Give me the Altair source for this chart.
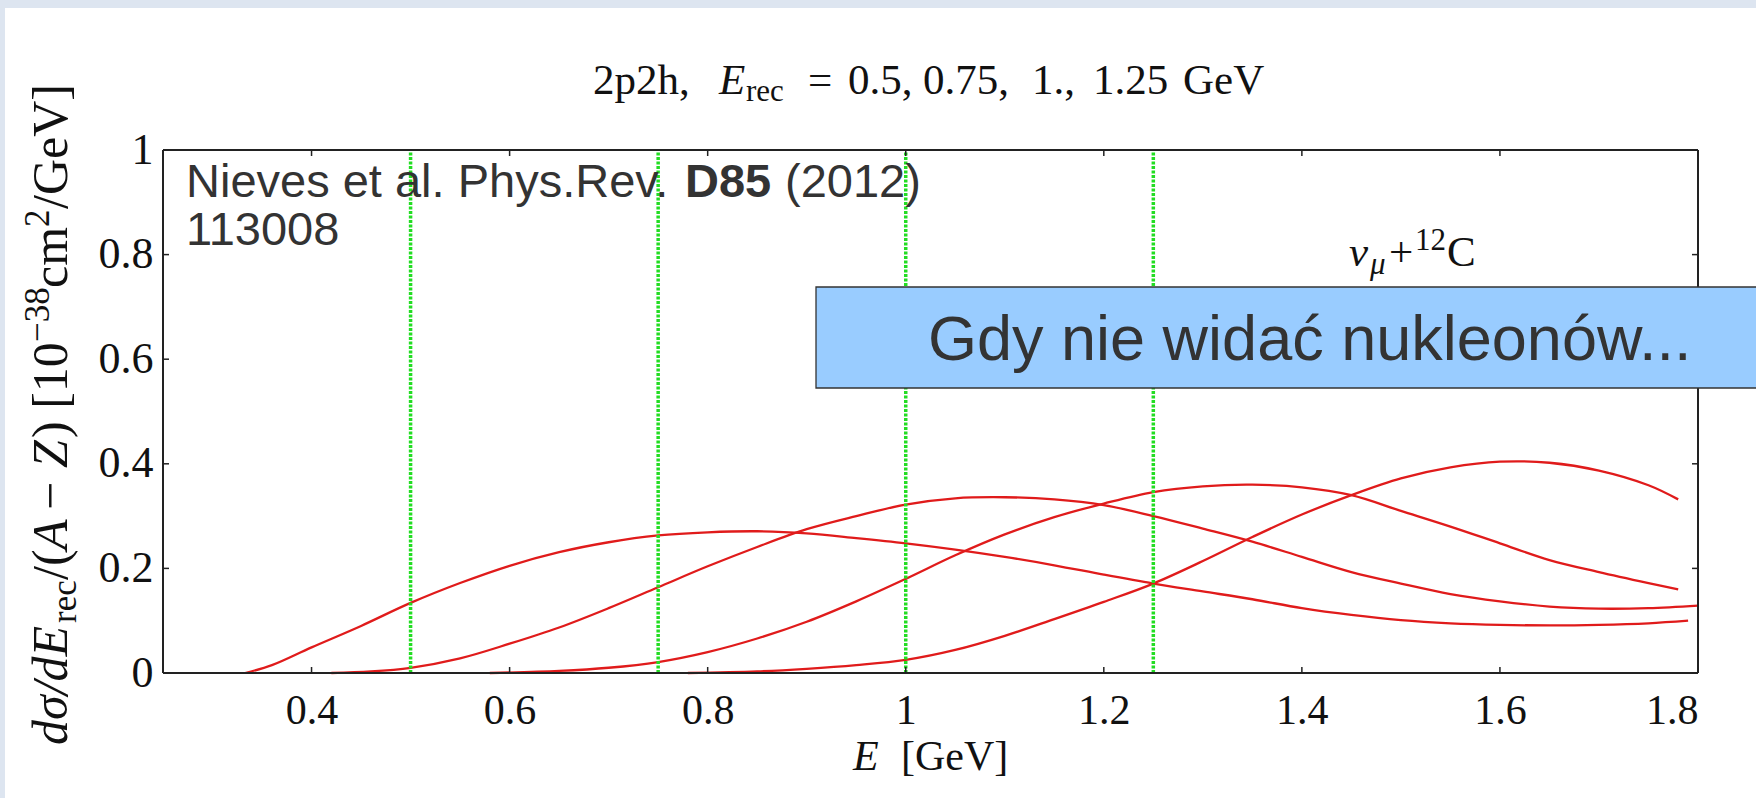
import altair as alt
import pandas as pd

# ---------------------------------------------------------------- data ---
E_REC = [0.5, 0.75, 1.0, 1.25]

E_05 = [0.333, 0.36, 0.40, 0.45, 0.50, 0.55, 0.60, 0.65, 0.70, 0.75, 0.80, 0.85,
        0.90, 0.95, 1.00, 1.05, 1.10, 1.15, 1.20, 1.25, 1.30, 1.35, 1.40, 1.45,
        1.50, 1.55, 1.60, 1.65, 1.70, 1.75, 1.79]
S_05 = [0.0, 0.015, 0.049, 0.090, 0.134, 0.172, 0.205, 0.231, 0.250, 0.263, 0.269, 0.271,
        0.267, 0.258, 0.248, 0.236, 0.222, 0.206, 0.188, 0.171, 0.156, 0.141, 0.124, 0.111,
        0.101, 0.095, 0.092, 0.091, 0.092, 0.095, 0.100]

E_075 = [0.42, 0.46, 0.50, 0.55, 0.60, 0.65, 0.70, 0.75, 0.80, 0.85, 0.90, 0.95,
         1.00, 1.05, 1.10, 1.15, 1.20, 1.25, 1.30, 1.35, 1.40, 1.45, 1.50, 1.55,
         1.60, 1.65, 1.70, 1.75, 1.80]
S_075 = [0.0, 0.003, 0.010, 0.028, 0.056, 0.087, 0.124, 0.164, 0.204, 0.241, 0.275, 0.300,
         0.322, 0.334, 0.336, 0.332, 0.321, 0.300, 0.276, 0.251, 0.222, 0.193, 0.171, 0.151,
         0.137, 0.127, 0.123, 0.124, 0.129]

E_10 = [0.58, 0.65, 0.70, 0.75, 0.80, 0.85, 0.90, 0.95, 1.00, 1.05, 1.10, 1.15,
        1.20, 1.25, 1.30, 1.35, 1.40, 1.45, 1.50, 1.55, 1.60, 1.65, 1.70, 1.75, 1.78]
S_10 = [0.0, 0.004, 0.010, 0.021, 0.040, 0.066, 0.098, 0.137, 0.180, 0.225, 0.265, 0.298,
        0.324, 0.346, 0.357, 0.360, 0.355, 0.340, 0.310, 0.280, 0.248, 0.216, 0.193, 0.172, 0.160]

E_125 = [0.78, 0.85, 0.90, 0.95, 1.00, 1.05, 1.10, 1.15, 1.20, 1.25, 1.30, 1.35,
         1.40, 1.45, 1.50, 1.55, 1.60, 1.65, 1.70, 1.75, 1.78]
S_125 = [0.0, 0.003, 0.008, 0.015, 0.025, 0.044, 0.071, 0.103, 0.136, 0.171, 0.214, 0.260,
         0.303, 0.340, 0.372, 0.393, 0.404, 0.402, 0.387, 0.359, 0.332]

X_TICKS = [0.4, 0.6, 0.8, 1.0, 1.2, 1.4, 1.6, 1.8]
Y_TICKS = [0.0, 0.2, 0.4, 0.6, 0.8, 1.0]

# ------------------------------------------------------------- layout ---
W, H = 1535, 523                   # plot area
PAD = {"left": 163, "top": 150, "right": 58, "bottom": 125}
SERIF = "Liberation Serif"
SANS = "Liberation Sans"
INK = "#111111"
GREY = "#333333"

curves = pd.concat(
    [pd.DataFrame({"E": e, "sigma": s, "Erec": r})
     for e, s, r in [(E_05, S_05, 0.5), (E_075, S_075, 0.75),
                     (E_10, S_10, 1.0), (E_125, S_125, 1.25)]],
    ignore_index=True)

x_scale = alt.Scale(domain=[0.25, 1.8], nice=False, zero=False)
y_scale = alt.Scale(domain=[0, 1], nice=False, zero=False)

x_axis = alt.Axis(values=X_TICKS, format="~g", ticks=False, tickSize=0, domain=False,
                  grid=False, labelFont=SERIF, labelFontSize=42, labelColor=INK,
                  labelPadding=50, labelBaseline="alphabetic", title=None)
y_axis = alt.Axis(values=Y_TICKS, format="~g", ticks=False, tickSize=0, domain=False,
                  grid=False, labelFont=SERIF, labelFontSize=44, labelColor=INK,
                  labelPadding=10, title=None)

lines = alt.Chart(curves).mark_line(color="#e01b1b", strokeWidth=2.3,
                                    interpolate="catmull-rom").encode(
    x=alt.X("E:Q", scale=x_scale, axis=x_axis),
    y=alt.Y("sigma:Q", scale=y_scale, axis=y_axis),
    detail="Erec:N",
)

markers = alt.Chart(pd.DataFrame({"E": E_REC})).mark_rule(
    color="#22dd22", strokeWidth=3.5, strokeDash=[3, 1.5]).encode(
    x=alt.X("E:Q", scale=x_scale),
    y=alt.datum(0),
    y2=alt.datum(1),
)

# box frame and inward ticks
frame_style = dict(color="#222222", strokeWidth=2)
frame = [
    alt.Chart(pd.DataFrame({"k": [0]})).mark_rule(**frame_style).encode(
        x=alt.value(0), x2=alt.value(W), y=alt.value(0)),
    alt.Chart(pd.DataFrame({"k": [0]})).mark_rule(**frame_style).encode(
        x=alt.value(0), x2=alt.value(W), y=alt.value(H)),
    alt.Chart(pd.DataFrame({"k": [0]})).mark_rule(**frame_style).encode(
        x=alt.value(0), y=alt.value(0), y2=alt.value(H)),
    alt.Chart(pd.DataFrame({"k": [0]})).mark_rule(**frame_style).encode(
        x=alt.value(W), y=alt.value(0), y2=alt.value(H)),
]
tick_style = dict(color="#222222", strokeWidth=1.5)
xt = pd.DataFrame({"v": X_TICKS})
yt = pd.DataFrame({"v": Y_TICKS})
ticks = [
    alt.Chart(xt).mark_rule(**tick_style).encode(
        x=alt.X("v:Q", scale=x_scale), y=alt.value(H), y2=alt.value(H - 6)),
    alt.Chart(xt).mark_rule(**tick_style).encode(
        x=alt.X("v:Q", scale=x_scale), y=alt.value(0), y2=alt.value(6)),
    alt.Chart(yt).mark_rule(**tick_style).encode(
        y=alt.Y("v:Q", scale=y_scale), x=alt.value(0), x2=alt.value(6)),
    alt.Chart(yt).mark_rule(**tick_style).encode(
        y=alt.Y("v:Q", scale=y_scale), x=alt.value(W), x2=alt.value(W - 6)),
]


def txt(s, x, y, size, font=SERIF, style="normal", weight="normal", color=INK,
        angle=0, align="left", baseline="alphabetic"):
    return alt.Chart(pd.DataFrame({"t": [s]})).mark_text(
        font=font, fontSize=size, fontStyle=style, fontWeight=weight, color=color,
        angle=angle, align=align, baseline=baseline).encode(
        x=alt.value(x), y=alt.value(y), text="t:N")


# title: 2p2h, E_rec = 0.5, 0.75, 1., 1.25 GeV
title = [
    txt("2p2h,", 430, -56, 43),
    txt("E", 556, -56, 43, style="italic"),
    txt("rec", 583, -49, 31),
    txt("=", 645, -56, 43),
    txt("0.5,", 685, -56, 43),
    txt("0.75,", 760, -56, 43),
    txt("1.,", 869, -56, 43),
    txt("1.25", 930, -56, 43),
    txt("GeV", 1020, -56, 43),
]

# x axis title: E [GeV]
xtitle = [
    txt("E", 690, 620, 42, style="italic"),
    txt("[GeV]", 738, 620, 42),
]

# y axis title, rotated: dσ/dE_rec/(A − Z) [10^−38 cm^2/GeV]
YB = -96
ytitle = [
    txt("dσ/dE", YB, 595, 50, style="italic", angle=270),
    txt("rec", YB + 9, 473, 35, angle=270),
    txt("/(", YB, 430, 50, angle=270),
    txt("A", YB, 400, 50, style="italic", angle=270),
    txt("−", YB, 360, 50, angle=270),
    txt("Z", YB, 318, 50, style="italic", angle=270),
    txt(") [10", YB, 288, 50, angle=270),
    txt("−38", YB - 18, 192, 35, angle=270),
    txt("cm", YB, 138, 50, angle=270),
    txt("2", YB - 18, 77, 35, angle=270),
    txt("/GeV]", YB, 59, 50, angle=270),
]

# reaction label: ν_μ + ¹²C
reaction = [
    txt("ν", 1186, 116, 43, style="italic"),
    txt("μ", 1207, 124, 31, style="italic"),
    txt("+", 1226, 116, 43),
    txt("12", 1252, 100, 31),
    txt("C", 1284, 116, 43),
]

# reference note
ref = [
    txt("Nieves et al. Phys.Rev. ", 23, 47, 47, font=SANS, color=GREY),
    txt("D85", 522, 47, 47, font=SANS, weight="bold", color=GREY),
    txt("(2012)", 622, 47, 47, font=SANS, color=GREY),
    txt("113008", 23, 95, 47, font=SANS, color=GREY),
]

# callout box
box = alt.Chart(pd.DataFrame({"k": [0]})).mark_rect(
    fill="#99ccff", stroke="#333333", strokeWidth=1.3).encode(
    x=alt.value(653), x2=alt.value(W + 70), y=alt.value(137), y2=alt.value(238))
box_text = txt("Gdy nie widać nukleonów...", 765, 210, 63, font=SANS, color=GREY)

# slide border strips
strips = [
    alt.Chart(pd.DataFrame({"k": [0]})).mark_rect(color="#dde5f0").encode(
        x=alt.value(-PAD["left"]), x2=alt.value(W + PAD["right"]),
        y=alt.value(-PAD["top"]), y2=alt.value(-PAD["top"] + 8)),
    alt.Chart(pd.DataFrame({"k": [0]})).mark_rect(color="#dde5f0").encode(
        x=alt.value(-PAD["left"]), x2=alt.value(-PAD["left"] + 5),
        y=alt.value(-PAD["top"]), y2=alt.value(H + PAD["bottom"])),
]

chart = alt.layer(
    lines, markers, *frame, *ticks, *title, *xtitle, *ytitle, *reaction, *ref,
    box, box_text, *strips,
).properties(
    width=W, height=H,
    autosize=alt.AutoSizeParams(type="none"),
    padding=PAD,
    background="white",
).configure_view(strokeWidth=0)

chart.save("out.html", embed_options={"renderer": "svg", "actions": False})
